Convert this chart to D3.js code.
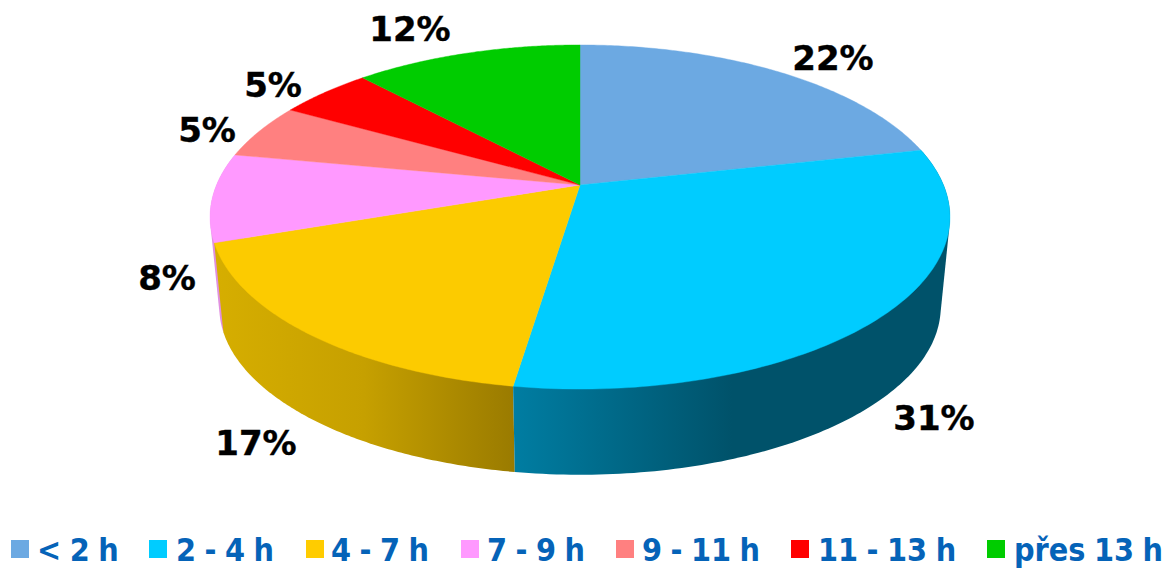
<!DOCTYPE html>
<html><head><meta charset="utf-8">
<script src="https://cdn.jsdelivr.net/npm/d3@7/dist/d3.min.js"></script>
<style>html,body{margin:0;padding:0;background:#fff;overflow:hidden}svg{display:block}
text{font-weight:bold}</style></head>
<body><svg id="c" width="1167" height="569"></svg>
<script>
// Data
const categories = ["< 2 h","2 - 4 h","4 - 7 h","7 - 9 h","9 - 11 h","11 - 13 h","přes 13 h"];
const shares = [21.5,30.9,17.3,8.3,5.2,4.9,11.9];
const colors = ["#6CA9E2","#00CCFF","#FCCB00","#FF99FF","#FF8080","#FF0000","#00CC00"];
const legendColors = ["#6CA9E2","#00CCFF","#FFCC00","#FF99FF","#FF8080","#FF0000","#00CC00"];

// Layout (not data)
const CX=580, APEX=185, R=363.5, K=0.186, S=131.7;
const DEPTH_CY=307, RIM_CY=217, LOW_SCALE=0.975;
const labelPos=[[833,58],[934,418],[256,443],[167,278],[207,130],[273,85],[410,29]];
const legendSwatchX=[11,149,306,461,616,791,987];
const legendTextX=[37,176,331,487,642,818,1014];

const svg=d3.select("#c");
const defs=svg.append("defs");
const pie=d3.pie().sort(null).value(d=>d)(shares);

function rimPoint(a){ // perspective projection of a disc point at angle a (clockwise from top)
  const u=Math.sin(a), v=-Math.cos(a), w=1-K*v;
  return [CX+R*u/w, (APEX+S*v)/w];
}
function lowPoint(a){
  const p=rimPoint(a);
  return [CX+(p[0]-CX)*LOW_SCALE, DEPTH_CY+(p[1]-RIM_CY)*LOW_SCALE];
}
const line=d3.line();
const arcAngles=(a,b)=>d3.range(0,121).map(i=>a+(b-a)*i/120);

function grad(id,stops,x1,x2){
  const g=defs.append("linearGradient").attr("id",id).attr("gradientUnits","userSpaceOnUse")
    .attr("x1",x1).attr("x2",x2).attr("y1",0).attr("y2",0);
  stops.forEach(s=>g.append("stop").attr("offset",s[0]).attr("stop-color",s[1]));
}
grad("gBlue",[[0,"#007DA2"],[0.5,"#00526A"],[1,"#00526A"]],514,950);
grad("gYellow",[[0,"#D6AE00"],[0.5,"#C6A000"],[1,"#9A7B00"]],214,514);

// side walls, drawn back to front (hull of top rim and lower rim of each slice)
const wallFill={1:"url(#gBlue)",2:"url(#gYellow)",3:"#E090E0"};
[3,2,1].forEach(i=>{
  const d=pie[i], as=arcAngles(d.startAngle,d.endAngle);
  const hull=d3.polygonHull(as.map(rimPoint).concat(as.map(lowPoint)));
  svg.append("path").attr("d",line(hull)+"Z").attr("fill",wallFill[i]);
});

// top face
svg.append("g").selectAll("path").data(pie).join("path")
  .attr("d",d=>line([[CX,APEX]].concat(arcAngles(d.startAngle,d.endAngle).map(rimPoint)))+"Z")
  .attr("fill",(d,i)=>colors[i]).attr("stroke",(d,i)=>colors[i]).attr("stroke-width",0.4);

// value labels
svg.append("g").selectAll("text").data(pie).join("text")
  .attr("x",(d,i)=>labelPos[i][0]).attr("y",(d,i)=>labelPos[i][1])
  .attr("dy","0.36em").attr("text-anchor","middle")
  .attr("font-family","'DejaVu Sans'").attr("font-size",34).attr("fill","#000")
  .attr("stroke","#000").attr("stroke-width",0.4)
  .text(d=>Math.round(d.data)+"%");

// legend
const lg=svg.append("g");
lg.selectAll("rect").data(categories).join("rect")
  .attr("x",(d,i)=>legendSwatchX[i]).attr("y",540).attr("width",18).attr("height",18)
  .attr("fill",(d,i)=>legendColors[i]);
lg.selectAll("text").data(categories).join("text")
  .attr("x",(d,i)=>legendTextX[i]).attr("y",561.4)
  .attr("font-family","'DejaVu Sans Condensed','DejaVu Sans'").attr("font-stretch","condensed")
  .attr("font-size",32).attr("word-spacing",-1.5).attr("fill","#0563B8").text(d=>d);
</script></body></html>
